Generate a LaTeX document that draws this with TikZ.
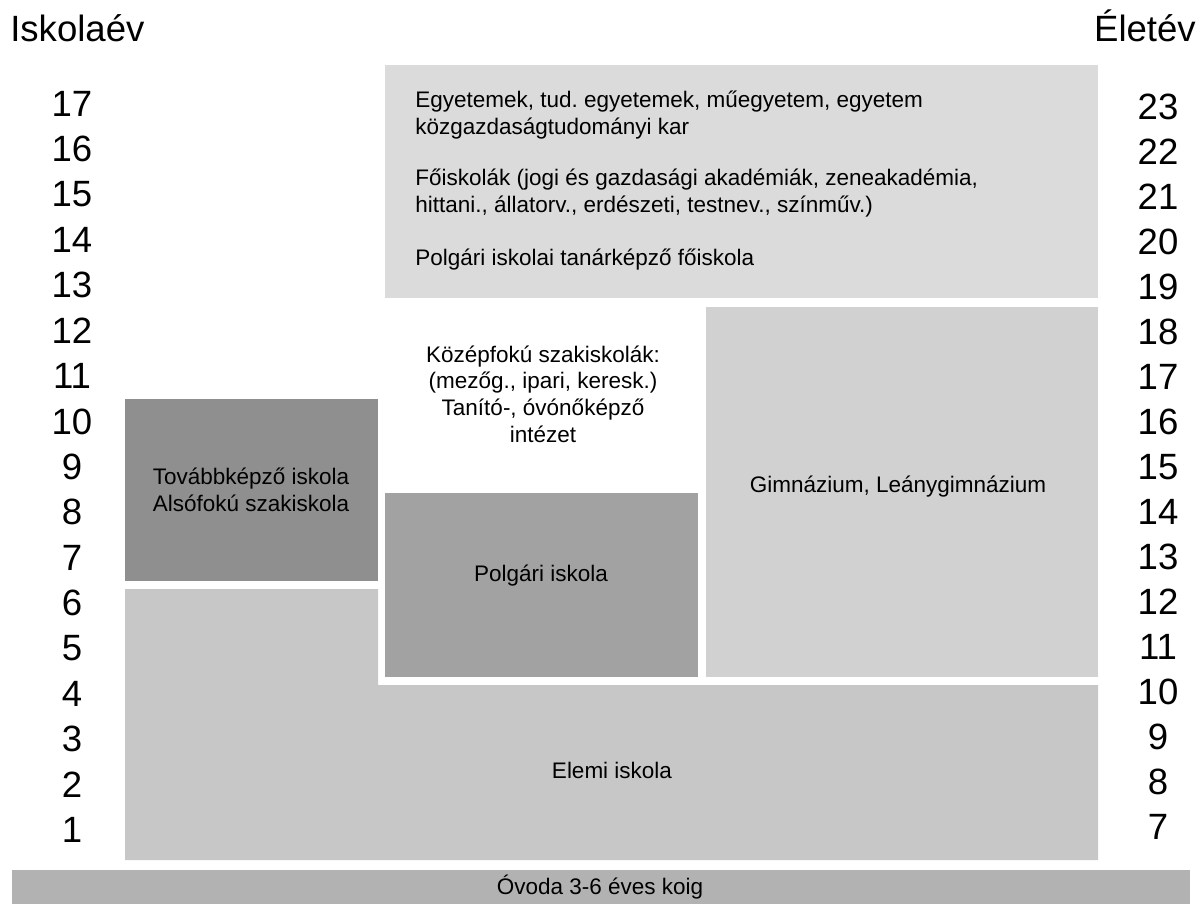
\documentclass[tikz,border=0pt]{standalone}
\usepackage{fontspec}
\setmainfont{Liberation Sans}
\usetikzlibrary{positioning}
\frenchspacing
\definecolor{egyszurke}{gray}{0.86}
\definecolor{gimszurke}{gray}{0.82}
\definecolor{elemiszurke}{gray}{0.78}
\definecolor{polgszurke}{gray}{0.635}
\definecolor{tovszurke}{gray}{0.56}
\definecolor{ovszurke}{gray}{0.70}

\begin{document}
\begin{tikzpicture}[x=0.025cm, y=-0.025cm,
  szoveg/.style={font=\fontsize{16}{19}\selectfont, align=center, inner sep=0pt},
  evszam/.style={font=\fontsize{26}{28}\selectfont, inner sep=0pt}]
\useasboundingbox (0,0) rectangle (1200,904);
% blocks
\path[fill=egyszurke] (385,65) rectangle (1098,298);
\path[fill=gimszurke] (706,307) rectangle (1098,677);
\path[fill=polgszurke] (385,493) rectangle (698,677);
\path[fill=tovszurke] (125,399) rectangle (378,581);
\path[fill=elemiszurke] (125,589)--(378,589)--(378,685)--(1098,685)--(1098,860)--(125,860)--cycle;
\path[fill=ovszurke] (12,870) rectangle (1190,904);
% headings
\node[evszam, anchor=base west] (iskolaev) at (10,41) {Iskolaév};
\node[evszam, anchor=base east] (eletev) at (1196,41) {Életév};
\foreach \i in {1,...,17}
  \node[evszam] (isk\i) at (72,{830-(\i-1)*45.4}) {\i};
\foreach \i in {7,...,23}
  \node[evszam] (elet\i) at (1158,{827-(\i-7)*45}) {\i};
% texts
\node[szoveg, align=left, anchor=west] (egyetem) at (415,115)
  {Egyetemek, tud. egyetemek, műegyetem, egyetem\\közgazdaságtudományi kar};
\node[szoveg, align=left, anchor=west] (foiskola) at (415,193)
  {Főiskolák (jogi és gazdasági akadémiák, zeneakadémia,\\hittani., állatorv., erdészeti, testnev., színműv.)};
\node[szoveg, align=left, anchor=west] (tanarkepzo) at (415,260)
  {Polgári iskolai tanárképző főiskola};
\node[szoveg] (kozepfok) at (543,394)
  {Középfokú szakiskolák:\\(mezőg., ipari, keresk.)\\Tanító-, óvónőképző\\intézet};
\node[szoveg] (tovabbkepzo) at (251,490) {Továbbképző iskola\\Alsófokú szakiskola};
\node[szoveg] (polgari) at (541,576) {Polgári iskola};
\node[szoveg] (gimnazium) at (898,487) {Gimnázium, Leánygimnázium};
\node[szoveg] (elemi) at (612,770) {Elemi iskola};
\node[szoveg] (ovoda) at (600,887) {Óvoda 3-6 éves koig};
\end{tikzpicture}
\end{document}
